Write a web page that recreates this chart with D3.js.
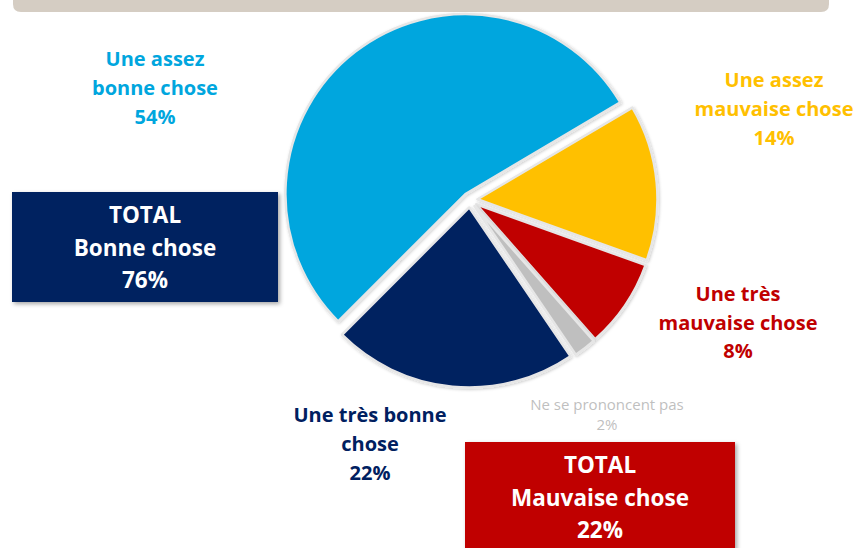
<!DOCTYPE html>
<html>
<head>
<meta charset="utf-8">
<script src="https://cdn.jsdelivr.net/npm/d3@7"></script>
<style>
  html, body { margin: 0; padding: 0; background: #fff; }
  svg { display: block; font-family: "Open Sans", "Noto Sans", sans-serif; }
</style>
</head>
<body>
<div id="chart"></div>
<script>
// Data, in pie order (clockwise)
const categories = ["Une assez bonne chose", "Une assez mauvaise chose", "Une très mauvaise chose", "Ne se prononcent pas", "Une très bonne chose"];
const values = [54, 14, 8, 2, 22];
const colors = ["#00a6de", "#ffc000", "#c00000", "#bfbfbf", "#002060"];
// label lines per slice
const labelLines = [
    ["Une assez", "bonne chose", "54%"],
    ["Une assez", "mauvaise chose", "14%"],
    ["Une très", "mauvaise chose", "8%"],
    ["Ne se prononcent pas", "2%"],
    ["Une très bonne", "chose", "22%"]
];
const totals = [
    {lines: ["TOTAL", "Bonne chose", "76%"], color: "#002060"},
    {lines: ["TOTAL", "Mauvaise chose", "22%"], color: "#c00000"}
];

const width = 855, height = 548;
const cx = 470, cy = 200, radius = 180, explode = 7.5;

const svg = d3.select("#chart").append("svg")
    .attr("width", width)
    .attr("height", height)
    .attr("viewBox", `0 0 ${width} ${height}`);

const defs = svg.append("defs");
const shadow = defs.append("filter").attr("id", "shadow")
    .attr("x", "-10%").attr("y", "-10%").attr("width", "130%").attr("height", "130%");
shadow.append("feDropShadow")
    .attr("dx", 2).attr("dy", 2).attr("stdDeviation", 2)
    .attr("flood-color", "#000").attr("flood-opacity", 0.35);
const softShadow = defs.append("filter").attr("id", "soft")
    .attr("x", "-10%").attr("y", "-10%").attr("width", "120%").attr("height", "120%");
softShadow.append("feDropShadow")
    .attr("dx", 1).attr("dy", 1).attr("stdDeviation", 1.5)
    .attr("flood-color", "#000").attr("flood-opacity", 0.2);

// beige header band at the top
svg.append("path")
    .attr("d", `M13,0 H829 V4 Q829,12 821,12 H21 Q13,12 13,4 Z`)
    .attr("fill", "#d5cdc3");

// pie
const pie = d3.pie().sort(null)
    .startAngle(-135 * Math.PI / 180)
    .endAngle(225 * Math.PI / 180);
const arcs = pie(values);
const arc = d3.arc().innerRadius(0).outerRadius(radius);

const chart = svg.append("g").attr("transform", `translate(${cx},${cy})`);
chart.selectAll("path.slice")
    .data(arcs)
    .join("path")
    .classed("slice", true)
    .attr("transform", d => {
        const a = (d.startAngle + d.endAngle) / 2;
        return `translate(${explode * Math.sin(a)},${-explode * Math.cos(a)})`;
    })
    .attr("d", arc)
    .attr("fill", (d, i) => colors[i])
    .attr("stroke", "#e6e6e6")
    .attr("stroke-width", 2.5)
    .attr("stroke-linejoin", "round")
    .attr("filter", "url(#soft)");

// slice labels
const labelPos = [
    {x: 155, y: 66, dy: 29, size: 20, weight: "bold"},
    {x: 774, y: 87, dy: 29, size: 20, weight: "bold"},
    {x: 738, y: 301, dy: 28.5, size: 20, weight: "bold"},
    {x: 607, y: 410, dy: 19.5, size: 15, weight: "normal"},
    {x: 370, y: 422, dy: 29, size: 20, weight: "bold"}
];
labelLines.forEach((lines, i) => {
    const p = labelPos[i];
    const t = svg.append("text")
        .attr("text-anchor", "middle")
        .attr("fill", colors[i])
        .attr("font-size", p.size)
        .attr("font-weight", p.weight);
    lines.forEach((l, j) => t.append("tspan").attr("x", p.x).attr("y", p.y + j * p.dy).text(l));
});

// total boxes
const boxes = [
    {x: 12, y: 192, w: 266, h: 110, ty: 223},
    {x: 465, y: 442, w: 270, h: 120, ty: 473}
];
totals.forEach((tot, i) => {
    const b = boxes[i];
    svg.append("rect")
        .attr("x", b.x).attr("y", b.y)
        .attr("width", b.w).attr("height", b.h)
        .attr("fill", tot.color)
        .attr("filter", "url(#shadow)");
    const t = svg.append("text")
        .attr("text-anchor", "middle")
        .attr("fill", "#fff")
        .attr("font-size", 22.5)
        .attr("font-weight", "bold");
    tot.lines.forEach((l, j) => t.append("tspan")
        .attr("x", b.x + b.w / 2).attr("y", b.ty + j * 32.5).text(l));
});
</script>
</body>
</html>
